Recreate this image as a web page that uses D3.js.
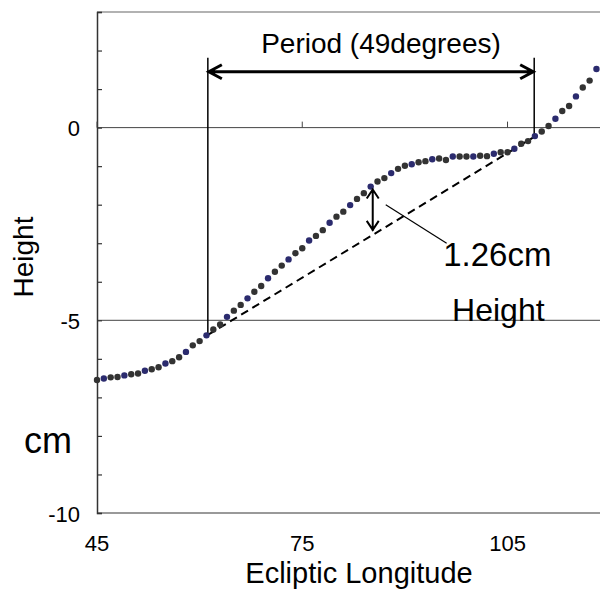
<!DOCTYPE html>
<html>
<head>
<meta charset="utf-8">
<script src="https://cdn.jsdelivr.net/npm/d3@7"></script>
<style>
  body { margin: 0; background: #fff; }
  svg { display: block; font-family: "Liberation Sans", Arial, sans-serif; }
</style>
</head>
<body>
<div id="chart"></div>
<script>
// chart values
var longitude = [45, 46, 47, 48, 49, 50, 51, 52, 53, 54, 55, 56, 57, 58, 59, 60, 61, 62, 63, 64,
    65, 66, 67, 68, 69, 70, 71, 72, 73, 74, 75, 76, 77, 78, 79, 80, 81, 82, 83, 84,
    85, 86, 87, 88, 89, 90, 91, 92, 93, 94, 95, 96, 97, 98, 99, 100, 101, 102, 103, 104,
    105, 106, 107, 108, 109, 110, 111, 112, 113, 114, 115, 116, 117, 118, 119];
var height = [-6.55, -6.51, -6.48, -6.47, -6.43, -6.40, -6.38, -6.31, -6.27, -6.22,
    -6.12, -6.06, -5.96, -5.82, -5.65, -5.54, -5.39, -5.24, -5.11, -4.91,
    -4.75, -4.60, -4.43, -4.26, -4.11, -3.91, -3.74, -3.58, -3.42, -3.26,
    -3.13, -2.93, -2.81, -2.66, -2.47, -2.31, -2.18, -2.01, -1.85, -1.70,
    -1.53, -1.40, -1.31, -1.18, -1.07, -0.99, -0.95, -0.90, -0.87, -0.82,
    -0.80, -0.84, -0.75, -0.75, -0.75, -0.75, -0.73, -0.74, -0.68, -0.64,
    -0.64, -0.55, -0.42, -0.35, -0.22, -0.10, 0.04, 0.23, 0.43, 0.56,
    0.81, 1.04, 1.22, 1.52, 1.71];
var xTicks = [45, 75, 105];
var yMajor = [0, -5, -10];
var yMinor = [3, 2, 1, 0, -1, -2, -3, -4, -5, -6, -7, -8, -9, -10];

// annotation (data coords)
var periodStart = 61.2, periodEnd = 108.9;
var periodStartH = -5.38, periodEndH = -0.24;
var gapX = 85.3, gapTop = -1.58, gapBottom = -2.68;

var svgWidth = 600;
var svgHeight = 589;

var svg = d3.select("#chart")
    .append("svg")
    .attr("width", svgWidth)
    .attr("height", svgHeight);

var xScale = d3.scaleLinear()
    .domain([45, 135])
    .range([97, 97 + 90 * 6.842]);

var yScale = d3.scaleLinear()
    .domain([-10, 3])
    .range([513, 12]);

var plotRight = xScale(135);

// frame lines
svg.append("line")
    .attr("x1", xScale(45)).attr("x2", plotRight)
    .attr("y1", yScale(3)).attr("y2", yScale(3))
    .attr("stroke", "#999").attr("stroke-width", 1.5);
svg.append("line")
    .attr("x1", xScale(45)).attr("x2", plotRight)
    .attr("y1", yScale(-10)).attr("y2", yScale(-10))
    .attr("stroke", "#999").attr("stroke-width", 2);

// gridlines at 0 and -5
svg.selectAll(".grid")
    .data([0, -5])
    .enter()
    .append("line")
    .attr("x1", xScale(45)).attr("x2", plotRight)
    .attr("y1", d => yScale(d)).attr("y2", d => yScale(d))
    .attr("stroke", "#444").attr("stroke-width", 1);

// y axis with inward ticks
var yAxis = d3.axisRight(yScale)
    .tickValues(yMinor)
    .tickSize(5)
    .tickFormat("");
var yG = svg.append("g")
    .attr("transform", `translate(${xScale(45)},0)`)
    .call(yAxis);
yG.select(".domain").attr("stroke", "#333").attr("stroke-width", 1.5);
yG.selectAll(".tick line").attr("stroke", "#333").attr("stroke-width", 1.2);

svg.selectAll(".ylab")
    .data(yMajor)
    .enter()
    .append("text")
    .attr("x", 80)
    .attr("y", d => yScale(d))
    .attr("dy", "0.4em")
    .attr("text-anchor", "end")
    .attr("font-size", 22)
    .attr("fill", "#000")
    .text(d => d);

// x ticks sit on the zero line
svg.selectAll(".xtick")
    .data(xTicks)
    .enter()
    .append("line")
    .attr("x1", d => xScale(d)).attr("x2", d => xScale(d))
    .attr("y1", yScale(0)).attr("y2", yScale(0) - 6)
    .attr("stroke", "#444").attr("stroke-width", 1);

svg.selectAll(".xlab")
    .data(xTicks)
    .enter()
    .append("text")
    .attr("x", d => xScale(d))
    .attr("y", 551)
    .attr("text-anchor", "middle")
    .attr("font-size", 22)
    .attr("fill", "#000")
    .text(d => d);

// axis titles
svg.append("text")
    .attr("x", 359).attr("y", 583)
    .attr("text-anchor", "middle")
    .attr("font-size", 29)
    .text("Ecliptic Longitude");

svg.append("text")
    .attr("transform", "translate(33,257) rotate(-90)")
    .attr("text-anchor", "middle")
    .attr("font-size", 28)
    .text("Height");

svg.append("text")
    .attr("x", 24).attr("y", 453)
    .attr("font-size", 36)
    .text("cm");

// period annotation
svg.selectAll(".vline")
    .data([[periodStart, periodStartH], [periodEnd, periodEndH]])
    .enter()
    .append("line")
    .attr("x1", d => xScale(d[0])).attr("x2", d => xScale(d[0]))
    .attr("y1", yScale(1.81)).attr("y2", d => yScale(d[1]))
    .attr("stroke", "#000").attr("stroke-width", 1.5);

var arrowY = yScale(1.45);
var xa = xScale(periodStart), xb = xScale(periodEnd);
svg.append("path")
    .attr("d", `M${xa},${arrowY}H${xb}` +
        `M${xa + 14},${arrowY - 7}L${xa + 1},${arrowY}L${xa + 14},${arrowY + 7}` +
        `M${xb - 14},${arrowY - 7}L${xb - 1},${arrowY}L${xb - 14},${arrowY + 7}`)
    .attr("fill", "none")
    .attr("stroke", "#000")
    .attr("stroke-width", 3);

svg.append("text")
    .attr("x", 381).attr("y", 53)
    .attr("text-anchor", "middle")
    .attr("font-size", 28)
    .text("Period (49degrees)");

// dashed chord
svg.append("line")
    .attr("x1", xScale(periodStart)).attr("y1", yScale(periodStartH))
    .attr("x2", xScale(periodEnd)).attr("y2", yScale(periodEndH))
    .attr("stroke", "#000")
    .attr("stroke-width", 2)
    .attr("stroke-dasharray", "8,5");

// data points
svg.selectAll("circle")
    .data(longitude)
    .enter()
    .append("circle")
    .attr("cx", d => xScale(d))
    .attr("cy", (d, i) => yScale(height[i]))
    .attr("r", 3.2)
    .attr("fill", (d, i) => (i % 3 === 1) ? "#2b2b6e" : "#333333");

// gap arrow
var gx = xScale(gapX), gt = yScale(gapTop), gb = yScale(gapBottom);
svg.append("path")
    .attr("d", `M${gx},${gt}V${gb}` +
        `M${gx - 6},${gt + 10}L${gx},${gt + 1}L${gx + 6},${gt + 10}` +
        `M${gx - 6},${gb - 10}L${gx},${gb - 1}L${gx + 6},${gb - 10}`)
    .attr("fill", "none")
    .attr("stroke", "#000")
    .attr("stroke-width", 2);

// leader line and labels
svg.append("line")
    .attr("x1", xScale(87.2)).attr("y1", yScale(-2.0))
    .attr("x2", xScale(96.1)).attr("y2", yScale(-3.0))
    .attr("stroke", "#000").attr("stroke-width", 1.2);

svg.append("text")
    .attr("x", xScale(95.6)).attr("y", 266)
    .attr("font-size", 33)
    .text("1.26cm");

svg.append("text")
    .attr("x", xScale(96.9)).attr("y", 321)
    .attr("font-size", 32)
    .text("Height");
</script>
</body>
</html>
